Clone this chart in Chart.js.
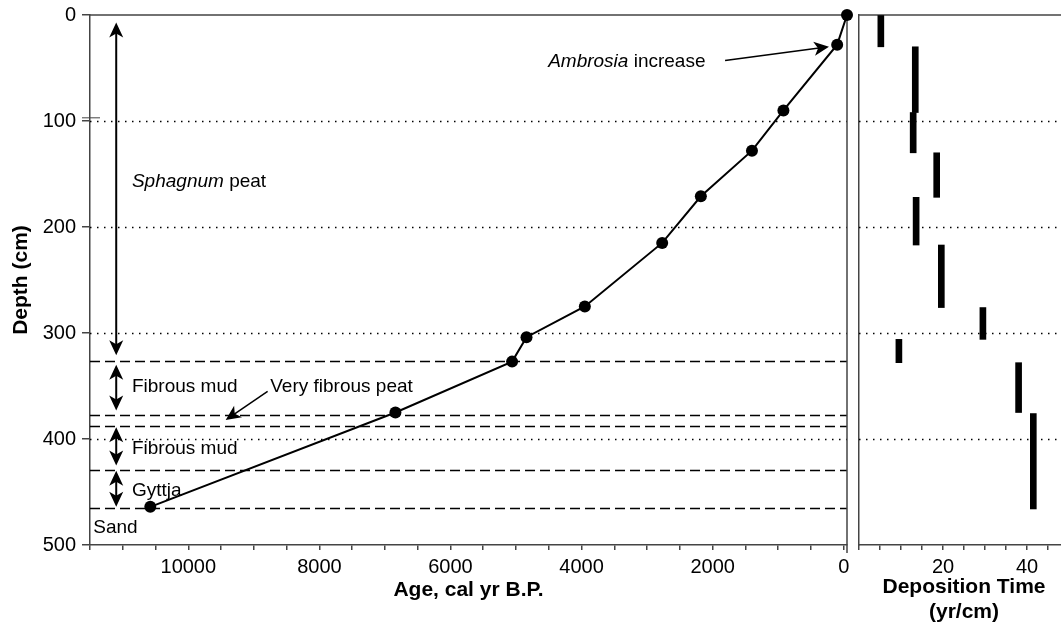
<!DOCTYPE html>
<html>
<head>
<meta charset="utf-8">
<script src="https://cdn.jsdelivr.net/npm/chart.js@4.4.1/dist/chart.umd.min.js"></script>
<style>
  body { margin: 0; background: #fff; }
  #wrap { position: relative; width: 1061px; height: 628px; overflow: hidden; }
  canvas { position: absolute; top: 0; }
  #ageChart { left: 0; }
  #rateChart { left: 846px; }
</style>
</head>
<body>
<div id="wrap">
  <canvas id="ageChart" width="856" height="628"></canvas>
  <canvas id="rateChart" width="223" height="628"></canvas>
</div>
<script>
// age model: calibrated ages (cal yr BP) and depths (cm)
var ageYears = [-50, 100, 920, 1400, 2180, 2770, 3950, 4840, 5060, 6840, 10580];
var depthCm  = [0, 28, 90, 128, 171, 215, 275, 304, 327, 375, 464];

// deposition time for each dated interval (yr/cm), with top and bottom depth
var rateValues = [5.2, 13.4, 12.9, 18.5, 13.6, 19.6, 29.5, 9.5, 38.0, 41.5];
var rateTop    = [0, 30, 92, 130, 172, 217, 276, 306, 328, 376];
var rateBottom = [30, 92, 130, 172, 217, 276, 306, 328, 375, 466];

// lithology boundaries (cm) and dotted reference depths
var unitBounds = [326, 377, 388, 429, 465];
var gridDepths = [100, 200, 300, 400];

var depthTicks = [0, 100, 200, 300, 400, 500];
var ageTickLabels = [0, 2000, 4000, 6000, 8000, 10000];
var rateTickLabels = [20, 40];

// unit labels, placed in age/depth units
var unitLabels = [
  { age: 10860, depth: 157, parts: [['Sphagnum', true], [' peat', false]] },
  { age: 10860, depth: 351, parts: [['Fibrous mud', false]] },
  { age: 8750,  depth: 351, parts: [['Very fibrous peat', false]] },
  { age: 10860, depth: 409, parts: [['Fibrous mud', false]] },
  { age: 10860, depth: 449, parts: [['Gyttja', false]] },
  { age: 11450, depth: 484, parts: [['Sand', false]] },
  { age: 4510,  depth: 44,  parts: [['Ambrosia', true], [' increase', false]] }
];
// double-headed arrows spanning each unit
var unitSpans = [
  { age: 11100, from: 7, to: 321 },
  { age: 11100, from: 330, to: 373 },
  { age: 11100, from: 389, to: 425 },
  { age: 11100, from: 430, to: 464 }
];
// pointer arrows (start -> tip)
var pointers = [
  { a0: 8790, d0: 355, a1: 9430, d1: 382, w: 1.5 },
  { a0: 1810, d0: 43,  a1: 225,  d1: 30,  w: 1.5 }
];

var FONT = "'Liberation Sans', Arial, sans-serif";
var AXIS = '#444';
Chart.defaults.font.family = FONT;
Chart.defaults.color = '#000';

function range(a, b, step) {
  var out = [];
  for (var v = a; v <= b; v += step) out.push({ value: v });
  return out;
}

// keep the plot frame exactly where the layout padding puts it
function noScalePadding(s) {
  s.paddingTop = 0;
  s.paddingBottom = 0;
  s.paddingLeft = 0;
  s.paddingRight = 0;
}

function arrowHead(ctx, x, y, ang) {
  var len = 15, half = 7, notch = 4;
  ctx.save();
  ctx.translate(x, y);
  ctx.rotate(ang);
  ctx.beginPath();
  ctx.moveTo(0, 0);
  ctx.lineTo(-len, -half);
  ctx.lineTo(-len + notch, 0);
  ctx.lineTo(-len, half);
  ctx.closePath();
  ctx.fill();
  ctx.restore();
}

function arrow(ctx, x0, y0, x1, y1, both, w) {
  var ang = Math.atan2(y1 - y0, x1 - x0);
  var cut = 10;
  var sx = x0, sy = y0;
  if (both) { sx += Math.cos(ang) * cut; sy += Math.sin(ang) * cut; }
  ctx.lineWidth = w;
  ctx.beginPath();
  ctx.moveTo(sx, sy);
  ctx.lineTo(x1 - Math.cos(ang) * cut, y1 - Math.sin(ang) * cut);
  ctx.stroke();
  arrowHead(ctx, x1, y1, ang);
  if (both) arrowHead(ctx, x0, y0, ang + Math.PI);
}

function hLines(ctx, area, yScale, depths, dash, width) {
  ctx.save();
  ctx.strokeStyle = '#000';
  ctx.lineWidth = width;
  ctx.setLineDash(dash);
  depths.forEach(function (d) {
    var y = Math.round(yScale.getPixelForValue(d)) + 0.5;
    ctx.beginPath();
    ctx.moveTo(area.left, y);
    ctx.lineTo(area.right, y);
    ctx.stroke();
  });
  ctx.restore();
}

var agePanelDecor = {
  id: 'agePanelDecor',
  beforeDatasetsDraw: function (chart) {
    var ctx = chart.ctx, a = chart.chartArea, y = chart.scales.y;
    hLines(ctx, a, y, gridDepths, [1.5, 5.5], 1.5);
    hLines(ctx, a, y, unitBounds, [10, 5], 1.5);
    // top and right frame
    ctx.save();
    ctx.strokeStyle = AXIS;
    ctx.lineWidth = 1.5;
    ctx.beginPath();
    ctx.moveTo(a.left, a.top);
    ctx.lineTo(a.right, a.top);
    ctx.lineTo(a.right, a.bottom + 8);
    ctx.stroke();
    // doubled mark beside the 100 cm tick
    var yy = y.getPixelForValue(97);
    ctx.lineWidth = 1;
    ctx.beginPath();
    ctx.moveTo(a.left - 8, yy);
    ctx.lineTo(a.left + 10, yy);
    ctx.stroke();
    ctx.restore();
  },
  afterDatasetsDraw: function (chart) {
    var ctx = chart.ctx, x = chart.scales.x, y = chart.scales.y;
    ctx.save();
    ctx.fillStyle = '#000';
    ctx.strokeStyle = '#000';
    unitSpans.forEach(function (s) {
      var px = x.getPixelForValue(s.age);
      arrow(ctx, px, y.getPixelForValue(s.from), px, y.getPixelForValue(s.to), true, 2);
    });
    pointers.forEach(function (p) {
      arrow(ctx, x.getPixelForValue(p.a0), y.getPixelForValue(p.d0),
        x.getPixelForValue(p.a1), y.getPixelForValue(p.d1), false, p.w);
    });
    ctx.textBaseline = 'middle';
    ctx.textAlign = 'left';
    unitLabels.forEach(function (l) {
      var px = x.getPixelForValue(l.age), py = y.getPixelForValue(l.depth);
      l.parts.forEach(function (part) {
        ctx.font = (part[1] ? 'italic ' : '') + '19px ' + FONT;
        ctx.fillText(part[0], px, py);
        px += ctx.measureText(part[0]).width;
      });
    });
    ctx.restore();
  }
};

var ratePanelDecor = {
  id: 'ratePanelDecor',
  beforeDatasetsDraw: function (chart) {
    var ctx = chart.ctx, a = chart.chartArea;
    hLines(ctx, a, chart.scales.y, gridDepths, [1.5, 5.5], 1.5);
    ctx.save();
    ctx.strokeStyle = AXIS;
    ctx.lineWidth = 1.5;
    ctx.beginPath();
    ctx.moveTo(a.left, a.top);
    ctx.lineTo(a.right, a.top);
    ctx.stroke();
    ctx.restore();
  }
};

new Chart(document.getElementById('ageChart'), {
  type: 'scatter',
  data: {
    datasets: [{
      data: ageYears.map(function (a, i) { return { x: a, y: depthCm[i] }; }),
      showLine: true,
      borderColor: '#000',
      borderWidth: 2,
      pointRadius: 6,
      pointBackgroundColor: '#000',
      pointBorderWidth: 0,
      clip: false
    }]
  },
  options: {
    responsive: false,
    animation: false,
    layout: { padding: { top: 15, right: 9, left: 0, bottom: 0 } },
    plugins: { legend: { display: false }, tooltip: { enabled: false } },
    scales: {
      x: {
        type: 'linear',
        reverse: true,
        min: -50,
        max: 11500,
        afterBuildTicks: function (s) { s.ticks = range(0, 11500, 500); },
        afterFit: function (s) { s.height = 83; noScalePadding(s); },
        ticks: {
          autoSkip: false,
          maxRotation: 0,
          padding: 5,
          font: { size: 20 },
          callback: function (v) { return ageTickLabels.indexOf(v) >= 0 ? String(v) : ''; }
        },
        grid: { drawOnChartArea: false, tickLength: 5, color: AXIS, lineWidth: 1.5 },
        border: { color: AXIS, width: 1.5 },
        title: {
          display: true,
          text: 'Age, cal yr B.P.',
          font: { size: 21, weight: 'bold' },
          padding: { top: 0, bottom: 25 }
        }
      },
      y: {
        type: 'linear',
        reverse: true,
        min: 0,
        max: 500,
        afterBuildTicks: function (s) { s.ticks = depthTicks.map(function (v) { return { value: v }; }); },
        afterFit: function (s) { s.width = 90; noScalePadding(s); },
        ticks: { padding: 6, font: { size: 20 } },
        grid: { drawOnChartArea: false, tickLength: 8, color: AXIS, lineWidth: 1.5 },
        border: { color: AXIS, width: 1.5 },
        title: {
          display: true,
          text: 'Depth (cm)',
          font: { size: 21, weight: 'bold' },
          padding: { top: 9, bottom: 0 }
        }
      }
    }
  },
  plugins: [agePanelDecor]
});

new Chart(document.getElementById('rateChart'), {
  type: 'bar',
  data: {
    datasets: [{
      data: rateValues.map(function (v, i) { return { x: v, y: [rateTop[i], rateBottom[i]] }; }),
      backgroundColor: '#000',
      borderWidth: 0,
      barThickness: 6,
      grouped: false
    }]
  },
  options: {
    responsive: false,
    animation: false,
    layout: { padding: { top: 15, right: 0, left: 0, bottom: 0 } },
    plugins: { legend: { display: false }, tooltip: { enabled: false } },
    scales: {
      x: {
        type: 'linear',
        min: 0,
        max: 50,
        offset: false,
        afterBuildTicks: function (s) { s.ticks = range(0, 50, 5); },
        afterFit: function (s) { s.height = 83; noScalePadding(s); },
        ticks: {
          autoSkip: false,
          maxRotation: 0,
          padding: 5,
          font: { size: 20 },
          callback: function (v) { return rateTickLabels.indexOf(v) >= 0 ? String(v) : ''; }
        },
        grid: { drawOnChartArea: false, offset: false, tickLength: 5, color: AXIS, lineWidth: 1.5 },
        border: { color: AXIS, width: 1.5 },
        title: {
          display: true,
          text: ['Deposition Time', '(yr/cm)'],
          font: { size: 21, weight: 'bold' },
          padding: { top: 0, bottom: 3 }
        }
      },
      y: {
        type: 'linear',
        reverse: true,
        min: 0,
        max: 500,
        afterFit: function (s) { s.width = 13; noScalePadding(s); },
        ticks: { display: false },
        grid: { drawOnChartArea: false, drawTicks: false },
        border: { color: AXIS, width: 1.5 }
      }
    }
  },
  plugins: [ratePanelDecor]
});
</script>
</body>
</html>
